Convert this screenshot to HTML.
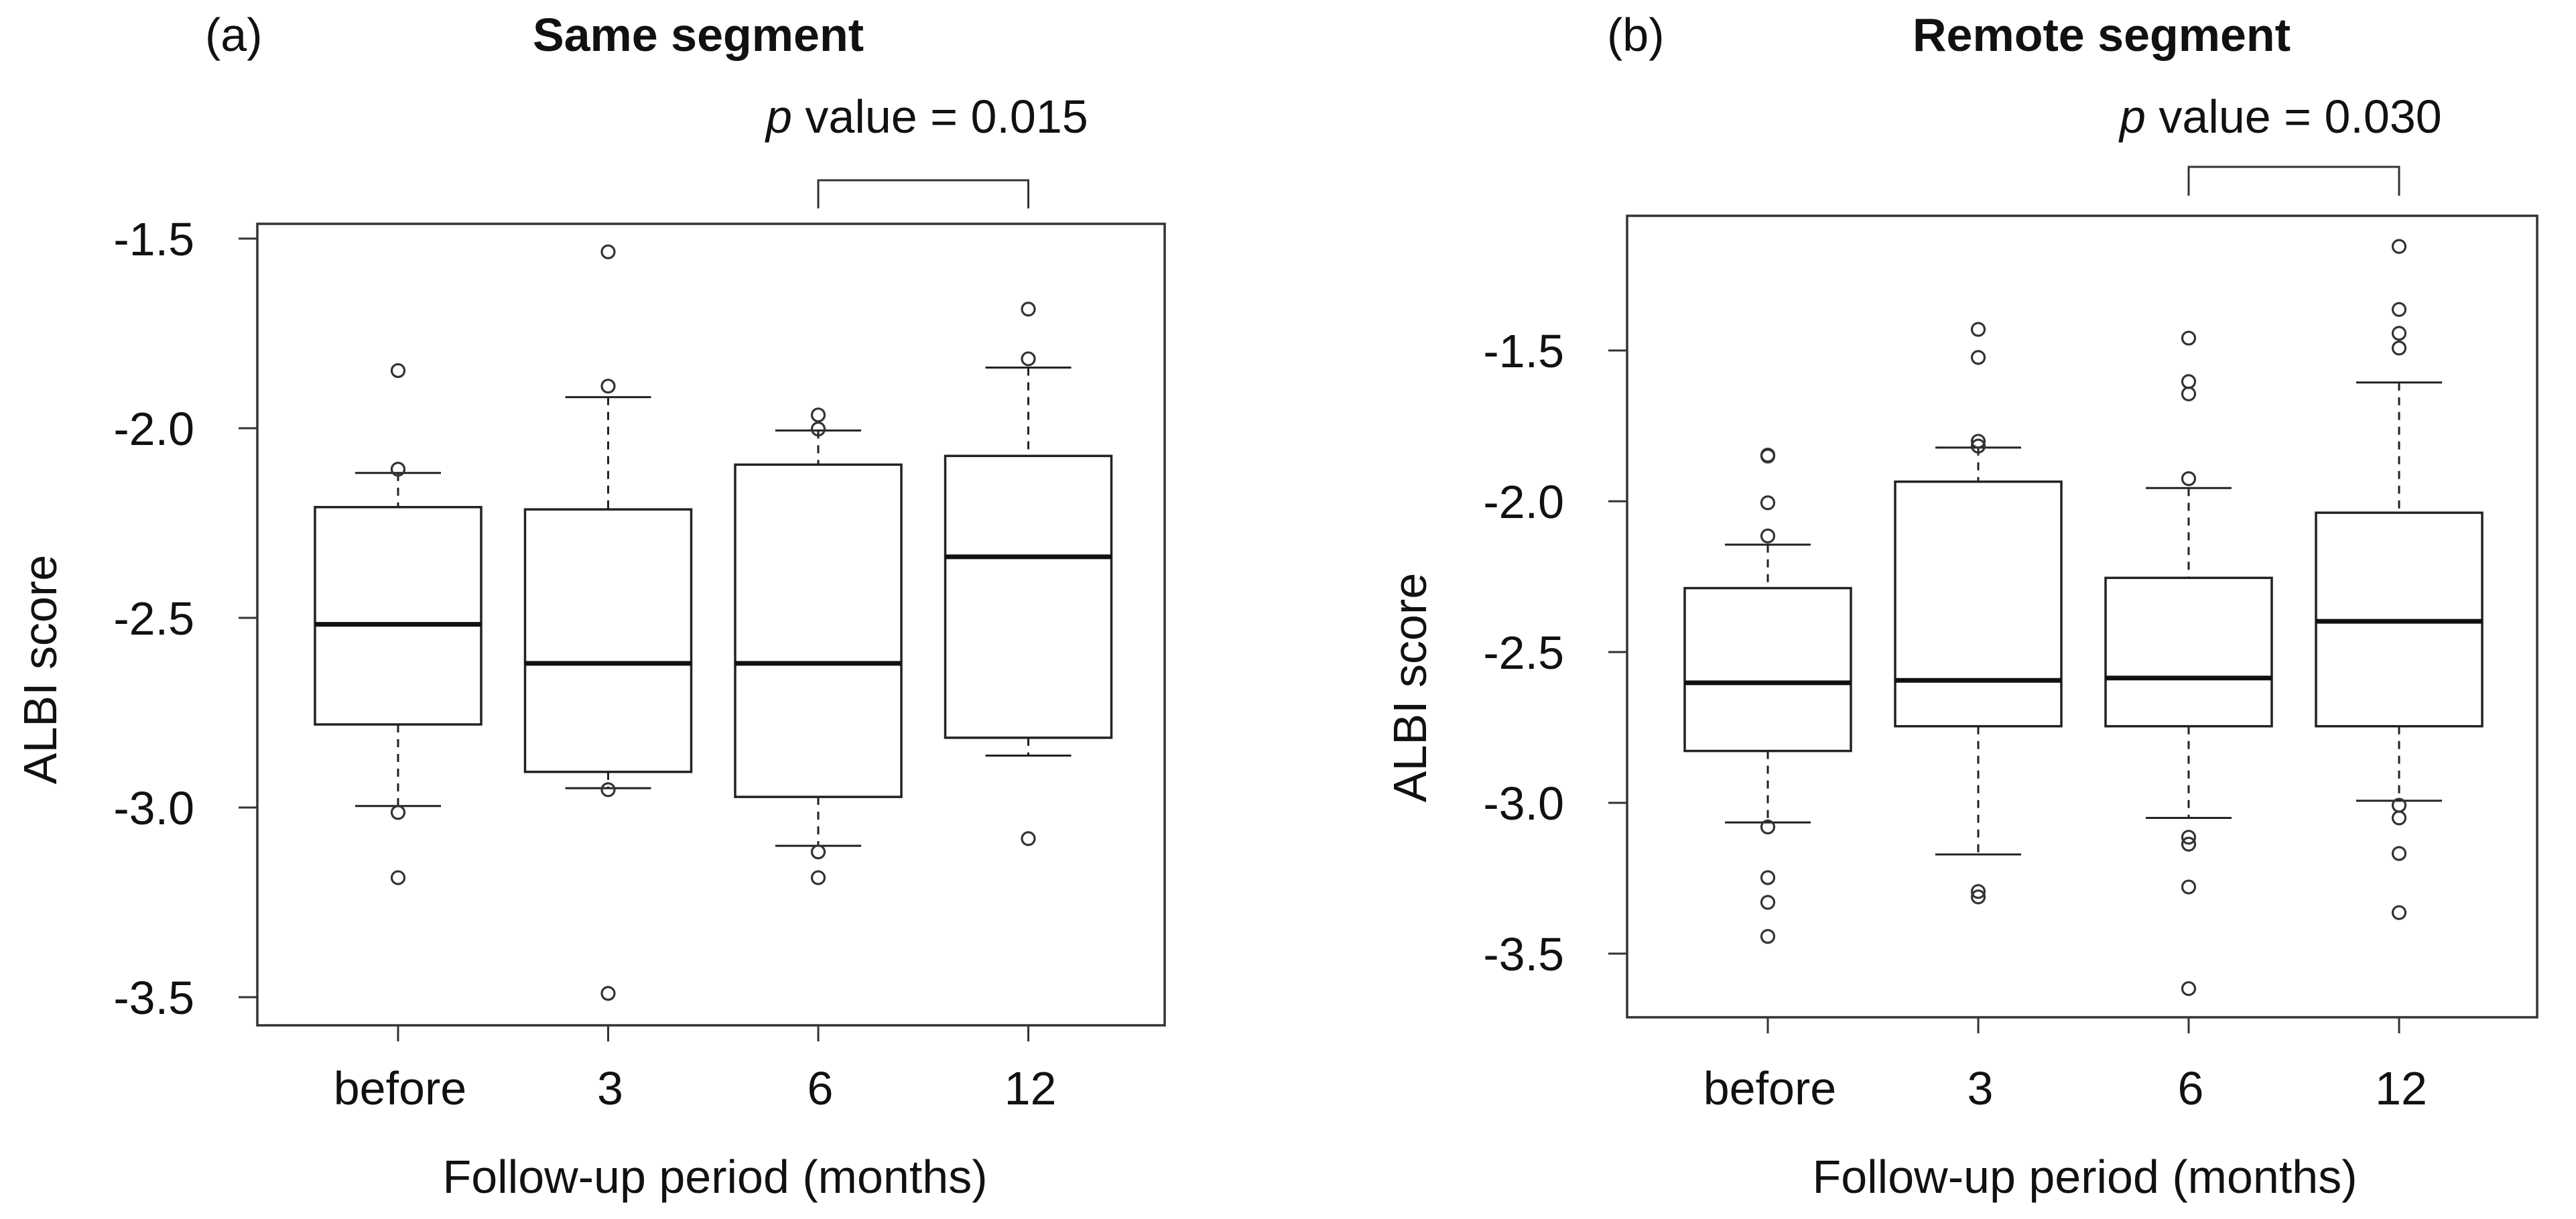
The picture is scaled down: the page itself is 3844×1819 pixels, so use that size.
<!DOCTYPE html>
<html><head><meta charset="utf-8"><style>
html,body{margin:0;padding:0;background:#fff}
svg{display:block}
text{font-family:"Liberation Sans",Arial,sans-serif;fill:#111}
</style></head><body>
<svg id="chart" width="3844" height="1819" viewBox="0 0 3844 1819" xmlns="http://www.w3.org/2000/svg"></svg>
<script>
const categories = ["before","3","6","12"];
const yTicks = [-1.5,-2.0,-2.5,-3.0,-3.5];
const yTickLabels = ["-1.5","-2.0","-2.5","-3.0","-3.5"];
// Panel A: Same segment
const aQ1 = [-2.781,-2.906,-2.972,-2.816];
const aQ3 = [-2.208,-2.214,-2.096,-2.073];
const aMedian = [-2.517,-2.620,-2.620,-2.339];
const aWhiskerHi = [-2.118,-1.918,-2.006,-1.840];
const aWhiskerLo = [-2.996,-2.949,-3.101,-2.863];
const aOutliers = [[-1.848,-2.108,-3.013,-3.185],[-1.535,-1.889,-2.953,-3.490],[-1.965,-2.002,-3.117,-3.185],[-1.686,-1.817,-3.082]];
// Panel B: Remote segment
const bQ1 = [-2.828,-2.746,-2.746,-2.746];
const bQ3 = [-2.288,-1.935,-2.254,-2.038];
const bMedian = [-2.602,-2.594,-2.586,-2.398];
const bWhiskerHi = [-2.144,-1.822,-1.956,-1.606];
const bWhiskerLo = [-3.065,-3.171,-3.050,-2.993];
const bOutliers = [[-1.847,-1.850,-2.005,-2.115,-3.080,-3.248,-3.330,-3.443],[-1.430,-1.523,-1.801,-1.817,-3.294,-3.312],[-1.459,-1.603,-1.644,-1.925,-3.114,-3.137,-3.279,-3.616],[-1.155,-1.364,-1.443,-1.492,-3.008,-3.050,-3.168,-3.364]];

const NS="http://www.w3.org/2000/svg";
const svg=document.getElementById('chart');
function mk(tag,attrs,parent,txt){const e=document.createElementNS(NS,tag);for(const k in attrs)e.setAttribute(k,attrs[k]);if(txt!==undefined)e.textContent=txt;(parent||svg).appendChild(e);return e;}

function panel(cfg,q1,q3,med,wh,wl,outs){
  const g=mk('g',{});
  
  
  const y=v=>cfg.y0+(v-(-1.5))*(-cfg.ppu);
  const x=i=>cfg.x0+i*cfg.dx;
  const st='#222';
  const fs=70;
  const frame=mk('rect',{x:cfg.L,y:cfg.T,width:cfg.R-cfg.L,height:cfg.B-cfg.T,fill:'none',stroke:'#333','stroke-width':3.5},g);
  
  
  yTicks.forEach((t,k)=>{
    const tk=mk('line',{x1:cfg.L-28,x2:cfg.L,y1:y(t),y2:y(t),stroke:'#333','stroke-width':3},g);
    
    
    const tl=mk('text',{x:cfg.tlx,y:y(t)+25,'text-anchor':'end','font-size':fs},g,yTickLabels[k]);
    
    
  });
  categories.forEach((c,i)=>{
    const cx=x(i);
    const tk=mk('line',{x1:cx,x2:cx,y1:cfg.B,y2:cfg.B+24,stroke:'#333','stroke-width':3},g);
    
    
    const tl=mk('text',{x:cx+3,y:1648,'text-anchor':'middle','font-size':fs},g,c);
    
    
    const hw=124, cw=64;
    const w1=mk('line',{x1:cx,x2:cx,y1:y(wh[i]),y2:y(q3[i]),stroke:st,'stroke-width':3,'stroke-dasharray':'12,10'},g);
    
    
    const w2=mk('line',{x1:cx,x2:cx,y1:y(q1[i]),y2:y(wl[i]),stroke:st,'stroke-width':3,'stroke-dasharray':'12,10'},g);
    
    
    const c1=mk('line',{x1:cx-cw,x2:cx+cw,y1:y(wh[i]),y2:y(wh[i]),stroke:st,'stroke-width':3},g);
    
    
    const c2=mk('line',{x1:cx-cw,x2:cx+cw,y1:y(wl[i]),y2:y(wl[i]),stroke:st,'stroke-width':3},g);
    
    
    const bx=mk('rect',{x:cx-hw,y:y(q3[i]),width:2*hw,height:y(q1[i])-y(q3[i]),fill:'#fff',stroke:st,'stroke-width':3.5},g);
    
    
    const md=mk('line',{x1:cx-hw,x2:cx+hw,y1:y(med[i]),y2:y(med[i]),stroke:'#111','stroke-width':7},g);
    
    
    outs[i].forEach(v=>{
      const o=mk('circle',{cx:cx,cy:y(v),r:9.5,fill:'none',stroke:'#333','stroke-width':3.2},g);
      
      
    });
  });
  const yt=mk('text',{x:0,y:0,'text-anchor':'middle','font-size':fs,transform:`translate(${cfg.ytx},${cfg.yty}) rotate(-90)`},g,'ALBI score');
  
  
  const xt=mk('text',{x:cfg.xtx,y:1780,'text-anchor':'middle','font-size':fs},g,'Follow-up period (months)');
  
  
  const tt=mk('text',{x:cfg.titleX,y:76,'text-anchor':'middle','font-size':fs,'font-weight':'bold'},g,cfg.title);
  
  
  const lb=mk('text',{x:cfg.labX,y:76,'font-size':fs},g,cfg.lab);
  
  
  const pt=mk('text',{x:cfg.pX,y:198,'font-size':fs},g);
  
  
  mk('tspan',{'font-style':'italic'},pt,'p');
  mk('tspan',{},pt,' value = '+cfg.p);
  const br=mk('path',{d:`M${x(2)},${cfg.brB} V${cfg.brT} H${x(3)} V${cfg.brB}`,fill:'none',stroke:'#333','stroke-width':3},g);
  
  
}

panel({name:'panel-a-same-segment',L:384,R:1738,T:334,B:1530,y0:356,ppu:566,x0:594,dx:313.5,tlx:290,ytx:84,yty:999,xtx:1067,title:'Same segment',titleX:1042,lab:'(a)',labX:306,pX:1143,p:'0.015',brT:269,brB:311},
  aQ1,aQ3,aMedian,aWhiskerHi,aWhiskerLo,aOutliers);
panel({name:'panel-b-remote-segment',L:2428,R:3786,T:322,B:1518,y0:523,ppu:450,x0:2638,dx:314,tlx:2334,ytx:2128,yty:1026,xtx:3111,title:'Remote segment',titleX:3136,lab:'(b)',labX:2398,pX:3163,p:'0.030',brT:249,brB:292},
  bQ1,bQ3,bMedian,bWhiskerHi,bWhiskerLo,bOutliers);
</script>
</body></html>
